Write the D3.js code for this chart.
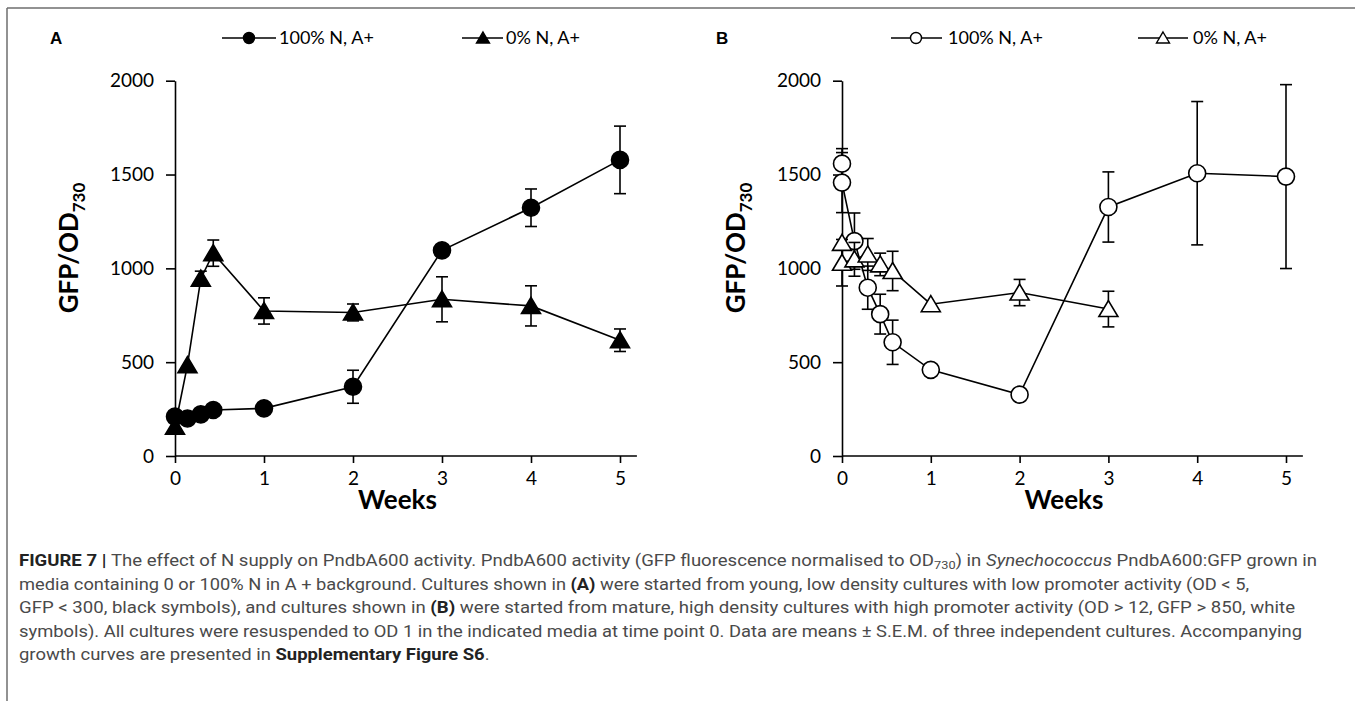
<!DOCTYPE html>
<html><head><meta charset="utf-8">
<script src="https://cdn.jsdelivr.net/npm/d3@7"></script>
<style>body{margin:0;background:#fff}</style>
</head><body>
<svg id="c" width="1355" height="701"></svg>
<script>
// ---------- DATA ----------
const yTicks = [0, 500, 1000, 1500, 2000];
const xTicks = [0, 1, 2, 3, 4, 5];
const seriesNames = ["100% N, A+", "0% N, A+"];

// Panel A (young cultures, black symbols)
const weeksA_full = [0, 0.14, 0.29, 0.43, 1, 2, 3, 4, 5];
const gfpA_full   = [210, 200, 222, 245, 254, 369, 1096, 1323, 1578];
const semA_full   = [0, 0, 0, 0, 0, 88, 0, 100, 180];
const weeksA_zero = [0, 0.14, 0.29, 0.43, 1, 2, 3, 4, 5];
const gfpA_zero   = [156, 484, 945, 1081, 773, 765, 835, 800, 617];
const semA_zero   = [0, 0, 40, 70, 70, 45, 120, 107, 60];

// Panel B (mature cultures, white symbols)
const weeksB_full = [0, 0, 0.14, 0.29, 0.43, 0.57, 1, 2, 3, 4, 5];
const gfpB_full   = [1558, 1457, 1145, 897, 756, 606, 459, 327, 1327, 1507, 1489];
const semB_full   = [80, 160, 150, 115, 106, 118, 0, 0, 187, 382, 490];
const weeksB_zero = [0, 0, 0.14, 0.29, 0.43, 0.57, 1, 2, 3];
const gfpB_zero   = [1136, 1030, 1048, 1074, 1021, 986, 809, 871, 783];
const semB_zero   = [0, 124, 90, 85, 60, 105, 0, 70, 95];

const captionLines = [
  [["b","FIGURE 7 | "],["n","The effect of N supply on PndbA600 activity. PndbA600 activity (GFP fluorescence normalised to OD"],["sub","730"],["n",") in "],["i","Synechococcus"],["n"," PndbA600:GFP grown in"]],
  [["n","media containing 0 or 100% N in A + background. Cultures shown in "],["b","(A)"],["n"," were started from young, low density cultures with low promoter activity (OD < 5,"]],
  [["n","GFP < 300, black symbols), and cultures shown in "],["b","(B)"],["n"," were started from mature, high density cultures with high promoter activity (OD > 12, GFP > 850, white"]],
  [["n","symbols). All cultures were resuspended to OD 1 in the indicated media at time point 0. Data are means \u00b1 S.E.M. of three independent cultures. Accompanying"]],
  [["n","growth curves are presented in "],["b","Supplementary Figure S6"],["n","."]]
];
const captionWidths = [1298, 1230, 1276, 1283, null];

// ---------- DRAW ----------
const svg = d3.select("#c");
const FONT = "Lato, 'Open Sans', sans-serif";

// frame
svg.append("line").attr("x1",7).attr("x2",1355).attr("y1",8).attr("y2",8).attr("stroke","#6e6e6e").attr("stroke-width",1.5);
svg.append("line").attr("x1",7).attr("x2",7).attr("y1",8).attr("y2",701).attr("stroke","#6e6e6e").attr("stroke-width",1.5);

const triPath = "M0,-8.5L9.5,7.5L-9.5,7.5Z";
const triPathSmall = "M0,-6L6.5,5L-6.5,5Z";

const panels = [
  {letter:"A", lx:50, x0:175, x5:620, filled:true,
   s1:{w:weeksA_full,v:gfpA_full,e:semA_full}, s2:{w:weeksA_zero,v:gfpA_zero,e:semA_zero},
   leg1:{l0:222,l1:276,m:249,t:279}, leg2:{l0:462,l1:503,m:483,t:506}},
  {letter:"B", lx:716, x0:842, x5:1286, filled:false,
   s1:{w:weeksB_full,v:gfpB_full,e:semB_full}, s2:{w:weeksB_zero,v:gfpB_zero,e:semB_zero},
   leg1:{l0:891,l1:942,m:916,t:948}, leg2:{l0:1138,l1:1188,m:1163,t:1193}}
];

panels.forEach(p => {
  const g = svg.append("g");
  const x = d3.scaleLinear().domain([0,5]).range([p.x0, p.x5]);
  const y = d3.scaleLinear().domain([0,2000]).range([456, 80.7]);
  const fill = p.filled ? "#000" : "#fff";

  // y axis
  const ya = g.append("g").attr("transform",`translate(${p.x0},0)`)
    .call(d3.axisLeft(y).tickValues(yTicks).tickSize(9).tickSizeOuter(0).tickPadding(12).tickFormat(d3.format("d")));
  ya.selectAll("path,line").attr("stroke","#000").attr("stroke-width",1.6);
  ya.selectAll("text").attr("font-family",FONT).attr("font-size",19).attr("fill","#000");

  // x axis
  const xa = g.append("g").attr("transform",`translate(0,456)`)
    .call(d3.axisBottom(x).tickValues(xTicks).tickSize(7).tickSizeOuter(0).tickPadding(9).tickFormat(d3.format("d")));
  xa.select(".domain").remove();
  xa.selectAll("line").attr("stroke","#000").attr("stroke-width",1.6);
  xa.selectAll("text").attr("font-family",FONT).attr("font-size",19).attr("fill","#000");
  g.append("line").attr("x1",x(0)).attr("x2",x(5.19)).attr("y1",456).attr("y2",456).attr("stroke","#000").attr("stroke-width",1.6);

  // axis titles
  g.append("text").attr("x",(x(0)+x(5))/2).attr("y",509).attr("text-anchor","middle")
    .attr("font-family",FONT).attr("font-weight",700).attr("font-size",26).text("Weeks");
  const yl = g.append("text").attr("transform",`translate(${p.x0-97},248) rotate(-90)`).attr("text-anchor","middle")
    .attr("font-family",FONT).attr("font-weight",700).attr("font-size",26);
  yl.append("tspan").text("GFP/OD");
  yl.append("tspan").attr("font-size",17).attr("dy",7).text("730");

  // panel letter
  svg.append("text").attr("x",p.lx).attr("y",44).attr("font-family","'Liberation Sans', Arial, sans-serif")
    .attr("font-weight",700).attr("font-size",17).text(p.letter);

  // series
  [p.s1, p.s2].forEach((s, si) => {
    const pts = s.w.map((w,i)=>({w, v:s.v[i], e:s.e[i]}));
    g.append("path").datum(pts).attr("fill","none").attr("stroke","#000").attr("stroke-width",1.6)
      .attr("d", d3.line().x(d=>x(d.w)).y(d=>y(d.v)));
    const eb = g.append("g").attr("stroke","#000").attr("stroke-width",1.6);
    pts.filter(d=>d.e>0).forEach(d=>{
      eb.append("line").attr("x1",x(d.w)).attr("x2",x(d.w)).attr("y1",y(d.v-d.e)).attr("y2",y(d.v+d.e));
      [d.v-d.e, d.v+d.e].forEach(v=>eb.append("line").attr("x1",x(d.w)-6).attr("x2",x(d.w)+6).attr("y1",y(v)).attr("y2",y(v)));
    });
    const mk = g.append("g");
    pts.forEach(d=>{
      if (si===0) mk.append("circle").attr("cx",x(d.w)).attr("cy",y(d.v)).attr("r",8.5)
        .attr("fill",fill).attr("stroke","#000").attr("stroke-width",1.6);
      else mk.append("path").attr("d",triPath).attr("transform",`translate(${x(d.w)},${y(d.v)})`)
        .attr("fill",fill).attr("stroke","#000").attr("stroke-width",1.6).attr("stroke-linejoin","miter");
    });
  });

  // legend
  [p.leg1, p.leg2].forEach((L, li) => {
    const ly = 38;
    svg.append("line").attr("x1",L.l0).attr("x2",L.l1).attr("y1",ly).attr("y2",ly).attr("stroke","#000").attr("stroke-width",1.6);
    if (li===0) svg.append("circle").attr("cx",L.m).attr("cy",ly).attr("r",5.5).attr("fill",fill).attr("stroke","#000").attr("stroke-width",1.4);
    else svg.append("path").attr("d",triPathSmall).attr("transform",`translate(${L.m},${ly})`).attr("fill",fill).attr("stroke","#000").attr("stroke-width",1.4);
    svg.append("text").attr("x",L.t).attr("y",ly+6).attr("font-family",FONT).attr("font-size",18).text(seriesNames[li]);
  });
});

// caption
const ratios = [];
const capTexts = captionLines.map((line, i) => {
  const t = svg.append("text").attr("x",19).attr("y",566 + i*23.5)
    .attr("font-family","Roboto, 'Liberation Sans', sans-serif").attr("font-size",16).attr("fill","#4a4a4a");
  let sub = false;
  line.forEach(([k, s]) => {
    const ts = t.append("tspan").text(s);
    if (k==="b") ts.attr("font-weight",700).attr("fill","#222");
    if (k==="i") ts.attr("font-style","italic");
    if (k==="sub") { ts.attr("font-size",11).attr("dy",3); sub = true; }
    else if (sub) { ts.attr("dy",-3); sub = false; }
  });
  const nat = t.node().getComputedTextLength();
  if (captionWidths[i]) ratios.push(captionWidths[i]/nat);
  return {t, nat};
});
const meanRatio = d3.mean(ratios);
capTexts.forEach(({t, nat}, i) => {
  const w = captionWidths[i] || nat*meanRatio;
  t.attr("textLength", w).attr("lengthAdjust","spacingAndGlyphs");
});
</script>
</body></html>
